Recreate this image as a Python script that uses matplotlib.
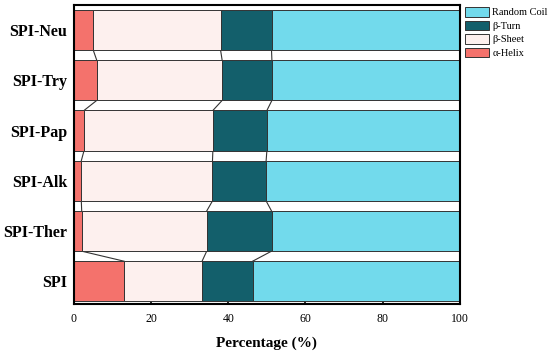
import numpy as np
import matplotlib
matplotlib.use("Agg")
import matplotlib.pyplot as plt

# secondary structure content (%), bottom to top
samples = ["SPI", "SPI-Ther", "SPI-Alk", "SPI-Pap", "SPI-Try", "SPI-Neu"]
helix = [13.0, 2.0, 1.9, 2.6, 5.9, 5.0]
sheet = [20.2, 32.4, 34.0, 33.4, 32.5, 33.0]
turn = [13.1, 16.8, 13.9, 14.0, 12.9, 13.2]
coil = [53.7, 48.8, 50.2, 50.0, 48.7, 48.8]

series = [("α-Helix", helix, "#F4726C"),
          ("β-Sheet", sheet, "#FDF0EE"),
          ("β-Turn", turn, "#135F6B"),
          ("Random Coil", coil, "#72DAEC")]

plt.rcParams['font.family'] = ['Liberation Serif', 'DejaVu Serif']

fig = plt.figure(figsize=(5.5, 3.53), dpi=100)
ax = fig.add_axes([0.1345, 0.139, 0.7015, 0.847])

y = np.arange(len(samples))
h = 0.8
left = np.zeros(len(samples))
handles = []
bounds = []
for name, vals, col in series:
    vals = np.array(vals)
    b = ax.barh(y, vals, height=h, left=left, color=col,
                edgecolor="#333333", linewidth=0.7, label=name, zorder=2)
    handles.append(b)
    left = left + vals
    bounds.append(left.copy())

# series lines joining the segment boundaries of neighbouring bars
for cum in bounds[:-1]:
    for i in range(len(samples) - 1):
        ax.plot([cum[i], cum[i + 1]], [y[i] + h / 2, y[i + 1] - h / 2],
                color="#333333", linewidth=0.8, zorder=1)

ax.set_xlim(0, 100)
ax.set_ylim(-0.45, 5.5)
ax.set_yticks(y)
ax.set_yticklabels(samples, fontsize=11.5, fontweight="bold")
ax.set_xticks([0, 20, 40, 60, 80, 100])
ax.tick_params(axis="x", labelsize=8.5, length=3.5, width=1.2,
               direction="in", pad=6.5)
ax.tick_params(axis="y", length=0, pad=5)
ax.set_xlabel("Percentage (%)", fontsize=11, fontweight="bold", labelpad=8)
for s in ax.spines.values():
    s.set_linewidth(1.5)

fig.legend(handles[::-1], [s[0] for s in series][::-1],
           loc="upper left", bbox_to_anchor=(0.838, 0.992), frameon=False,
           fontsize=7.5, handlelength=2.3, handleheight=1.05,
           labelspacing=0.3, handletextpad=0.3, borderaxespad=0)

fig.savefig("out.png", dpi=100)
